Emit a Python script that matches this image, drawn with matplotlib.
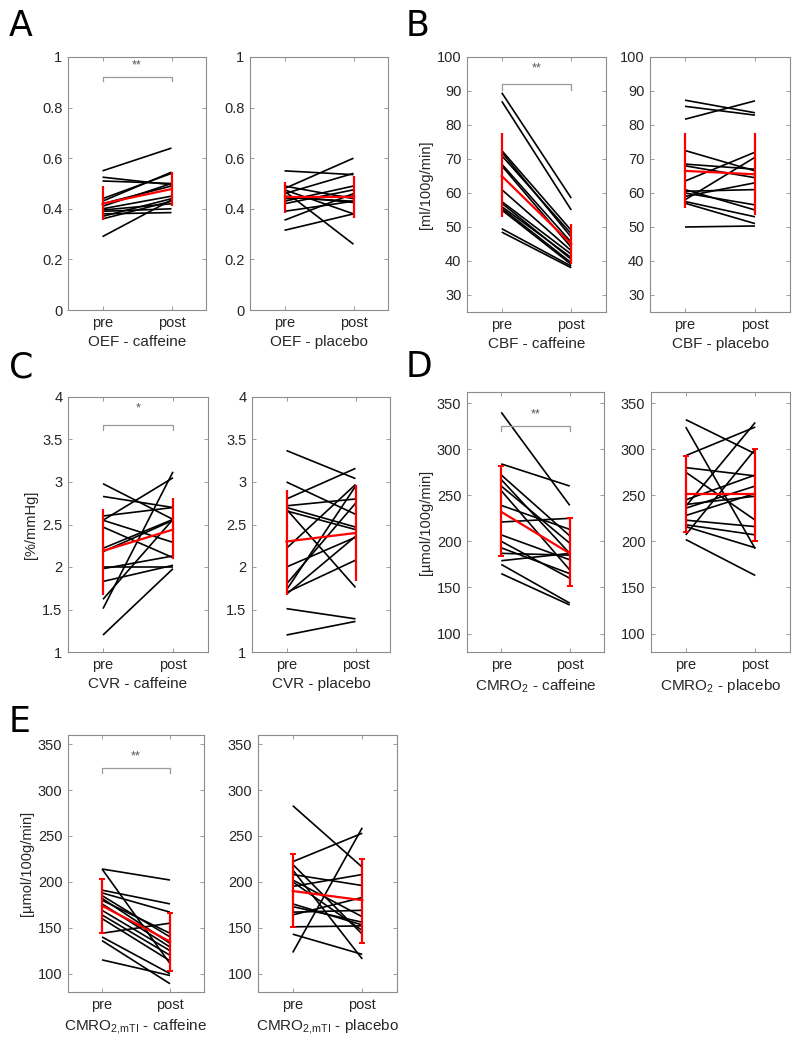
import matplotlib.pyplot as plt
from matplotlib.ticker import FormatStrFormatter

plt.rcParams['font.family'] = ['Liberation Sans', 'DejaVu Sans']
plt.rcParams['mathtext.default'] = 'regular'

cond = ['pre', 'post']

# ---- A: OEF ----
oef_caf_pre = [0.55, 0.525, 0.51, 0.44, 0.43, 0.42, 0.41, 0.40, 0.395, 0.39, 0.38, 0.37, 0.36, 0.29]
oef_caf_post = [0.64, 0.495, 0.50, 0.54, 0.545, 0.49, 0.50, 0.45, 0.42, 0.40, 0.385, 0.44, 0.43, 0.435]
oef_caf_mean = [0.42, 0.478]
oef_caf_lo = [0.355, 0.41]
oef_caf_hi = [0.49, 0.545]

oef_pla_pre = [0.55, 0.48, 0.47, 0.49, 0.46, 0.43, 0.42, 0.445, 0.44, 0.39, 0.355, 0.315, 0.475, 0.45]
oef_pla_post = [0.535, 0.60, 0.26, 0.44, 0.54, 0.49, 0.475, 0.43, 0.45, 0.43, 0.46, 0.38, 0.38, 0.425]
oef_pla_mean = [0.445, 0.445]
oef_pla_lo = [0.385, 0.365]
oef_pla_hi = [0.505, 0.53]

# ---- B: CBF ----
cbf_caf_pre = [89.5, 87, 72.5, 72, 71, 68.5, 68, 61, 57.5, 57, 56, 55.5, 55, 49.5, 48.5]
cbf_caf_post = [58.5, 55, 49, 47, 48, 45.5, 44, 43, 42, 40.5, 41, 39.5, 39, 38.5, 38]
cbf_caf_mean = [65, 45]
cbf_caf_lo = [53, 39]
cbf_caf_hi = [77.5, 51]

cbf_pla_pre = [87.3, 85.5, 81.7, 72.5, 68.5, 68, 63.5, 61, 60.5, 58, 57.5, 57, 59, 60, 50]
cbf_pla_post = [83.6, 82.9, 87.1, 66.5, 67, 64.5, 72, 55, 61, 70.5, 53, 51, 63, 56.5, 50.3]
cbf_pla_mean = [66.5, 65.5]
cbf_pla_lo = [55.5, 53.5]
cbf_pla_hi = [77.5, 77.5]

# ---- C: CVR ----
cvr_caf_pre = [2.98, 2.83, 2.60, 2.55, 2.47, 2.55, 2.22, 2.18, 1.98, 1.83, 1.62, 1.51, 1.2, 2.0]
cvr_caf_post = [2.56, 2.70, 2.70, 3.05, 2.11, 2.29, 2.56, 2.55, 2.13, 2.02, 2.56, 3.12, 1.98, 2.0]
cvr_caf_mean = [2.19, 2.44]
cvr_caf_lo = [1.67, 2.09]
cvr_caf_hi = [2.68, 2.81]

cvr_pla_pre = [3.37, 3.0, 2.80, 2.72, 2.70, 2.68, 2.66, 2.22, 2.0, 1.8, 1.73, 1.70, 1.68, 1.51, 1.2]
cvr_pla_post = [3.04, 2.62, 3.16, 2.80, 2.47, 1.76, 2.44, 2.97, 2.35, 2.75, 2.95, 2.08, 2.36, 1.39, 1.36]
cvr_pla_mean = [2.30, 2.40]
cvr_pla_lo = [1.67, 1.83]
cvr_pla_hi = [2.91, 2.96]

# ---- D: CMRO2 ----
cmro2_caf_pre = [340, 284, 272, 267, 260, 255, 239, 221, 207, 200, 193, 187, 179, 175, 165]
cmro2_caf_post = [239, 260, 206, 187, 198, 169, 213, 225, 180, 160, 165, 185, 187, 133, 131]
cmro2_caf_mean = [232, 187]
cmro2_caf_lo = [184, 152]
cmro2_caf_hi = [282, 225]

cmro2_pla_pre = [332, 324, 293, 280, 275, 245, 238, 236, 240, 223, 218, 216, 207, 202, 228]
cmro2_pla_post = [295, 192, 324, 271, 223, 272, 329, 260, 249, 216, 207, 193, 300, 163, 252]
cmro2_pla_mean = [251, 251]
cmro2_pla_lo = [210, 200]
cmro2_pla_hi = [293, 300]

# ---- E: CMRO2,mTI ----
mti_caf_pre = [214, 214, 191, 188, 185, 182, 180, 176, 169, 164, 160, 144, 140, 136, 115]
mti_caf_post = [202, 111, 176, 167, 140, 133, 144, 129, 125, 120, 114, 155, 100, 89, 98]
mti_caf_mean = [174, 135]
mti_caf_lo = [144, 103]
mti_caf_hi = [203, 166]

mti_pla_pre = [283, 222, 219, 213, 208, 202, 200, 195, 176, 173, 167, 164, 151, 143, 123]
mti_pla_post = [216, 253, 143, 116, 196, 162, 147, 208, 153, 156, 169, 183, 152, 121, 259]
mti_pla_mean = [190, 180]
mti_pla_lo = [151, 133]
mti_pla_hi = [230, 225]

W, H = 800, 1052
fig = plt.figure(figsize=(W / 100, H / 100), dpi=100)

ax_gray = '#8c8c8c'
txt_gray = '#262626'


def panel(left, top, bottom, width, pre, post, mean, lo, hi, ylim, yticks,
          xlabel, ylabel=None, sig=None, caps=0):
    ax = fig.add_axes([left / W, 1 - bottom / H, width / W, (bottom - top) / H])
    for a, b in zip(pre, post):
        ax.plot([1, 2], [a, b], color='black', lw=1.2, solid_capstyle='butt')
    err = [[m - l for m, l in zip(mean, lo)], [h - m for m, h in zip(mean, hi)]]
    ax.errorbar([1, 2], mean, yerr=err, color='red', lw=1.6, capsize=caps,
                capthick=1.4, zorder=5)
    if sig is not None:
        stars, yb, drop, ys = sig
        ax.plot([1, 1, 2, 2], [yb - drop, yb, yb, yb - drop], color='#9a9a9a', lw=0.9)
        ax.text(1.5, ys, stars, ha='center', va='center', color='#555555', fontsize=9)
    ax.set_xlim(0.5, 2.5)
    ax.set_ylim(*ylim)
    ax.set_xticks([1, 2])
    ax.set_xticklabels(cond)
    ax.set_yticks(yticks)
    ax.yaxis.set_major_formatter(FormatStrFormatter('%g'))
    ax.tick_params(direction='in', length=3, width=0.6, color=ax_gray,
                   labelcolor=txt_gray, labelsize=10.5, top=True, right=True, pad=4)
    for s in ax.spines.values():
        s.set_color(ax_gray)
        s.set_linewidth(0.8)
    ax.set_xlabel(xlabel, fontsize=11, color=txt_gray, labelpad=4)
    if ylabel:
        ax.set_ylabel(ylabel, fontsize=10.5, color=txt_gray, labelpad=3)
    return ax


# row 1
panel(68, 57, 310, 138, oef_caf_pre, oef_caf_post, oef_caf_mean, oef_caf_lo, oef_caf_hi,
      (0, 1), [0, 0.2, 0.4, 0.6, 0.8, 1], 'OEF - caffeine',
      sig=('**', 0.92, 0.015, 0.965))
panel(250, 57, 310, 138, oef_pla_pre, oef_pla_post, oef_pla_mean, oef_pla_lo, oef_pla_hi,
      (0, 1), [0, 0.2, 0.4, 0.6, 0.8, 1], 'OEF - placebo')
panel(467, 57, 312, 139, cbf_caf_pre, cbf_caf_post, cbf_caf_mean, cbf_caf_lo, cbf_caf_hi,
      (25, 100), list(range(30, 101, 10)), 'CBF - caffeine', '[ml/100g/min]',
      sig=('**', 92, 1.7, 96.5))
panel(650, 57, 312, 140, cbf_pla_pre, cbf_pla_post, cbf_pla_mean, cbf_pla_lo, cbf_pla_hi,
      (25, 100), list(range(30, 101, 10)), 'CBF - placebo')

# row 2
panel(68, 397, 652, 140, cvr_caf_pre, cvr_caf_post, cvr_caf_mean, cvr_caf_lo, cvr_caf_hi,
      (1, 4), [1, 1.5, 2, 2.5, 3, 3.5, 4], 'CVR - caffeine', '[%/mmHg]',
      sig=('*', 3.67, 0.06, 3.86))
panel(252, 397, 652, 138, cvr_pla_pre, cvr_pla_post, cvr_pla_mean, cvr_pla_lo, cvr_pla_hi,
      (1, 4), [1, 1.5, 2, 2.5, 3, 3.5, 4], 'CVR - placebo')
panel(467, 392, 652, 137, cmro2_caf_pre, cmro2_caf_post, cmro2_caf_mean, cmro2_caf_lo,
      cmro2_caf_hi, (80, 362), list(range(100, 351, 50)), 'CMRO$_2$ - caffeine',
      '[µmol/100g/min]', sig=('**', 325, 5, 338), caps=2)
panel(651, 392, 652, 139, cmro2_pla_pre, cmro2_pla_post, cmro2_pla_mean, cmro2_pla_lo,
      cmro2_pla_hi, (80, 362), list(range(100, 351, 50)), 'CMRO$_2$ - placebo', caps=2)

# row 3
panel(68, 735, 992, 136, mti_caf_pre, mti_caf_post, mti_caf_mean, mti_caf_lo, mti_caf_hi,
      (80, 360), list(range(100, 351, 50)), r'CMRO$_{2,\!mTI}$ - caffeine',
      '[µmol/100g/min]', sig=('**', 324, 5, 337), caps=2)
panel(258, 735, 992, 139, mti_pla_pre, mti_pla_post, mti_pla_mean, mti_pla_lo, mti_pla_hi,
      (80, 360), list(range(100, 351, 50)), r'CMRO$_{2,\!mTI}$ - placebo', caps=2)

# panel letters
for lab, x, y in [('A', 9, 9), ('B', 406, 9), ('C', 9, 350), ('D', 406, 350), ('E', 9, 705)]:
    fig.text(x / W, 1 - y / H, lab, fontsize=25, va='top', ha='left',
             family='DejaVu Sans', color='black')

fig.savefig('out.png', dpi=100)
